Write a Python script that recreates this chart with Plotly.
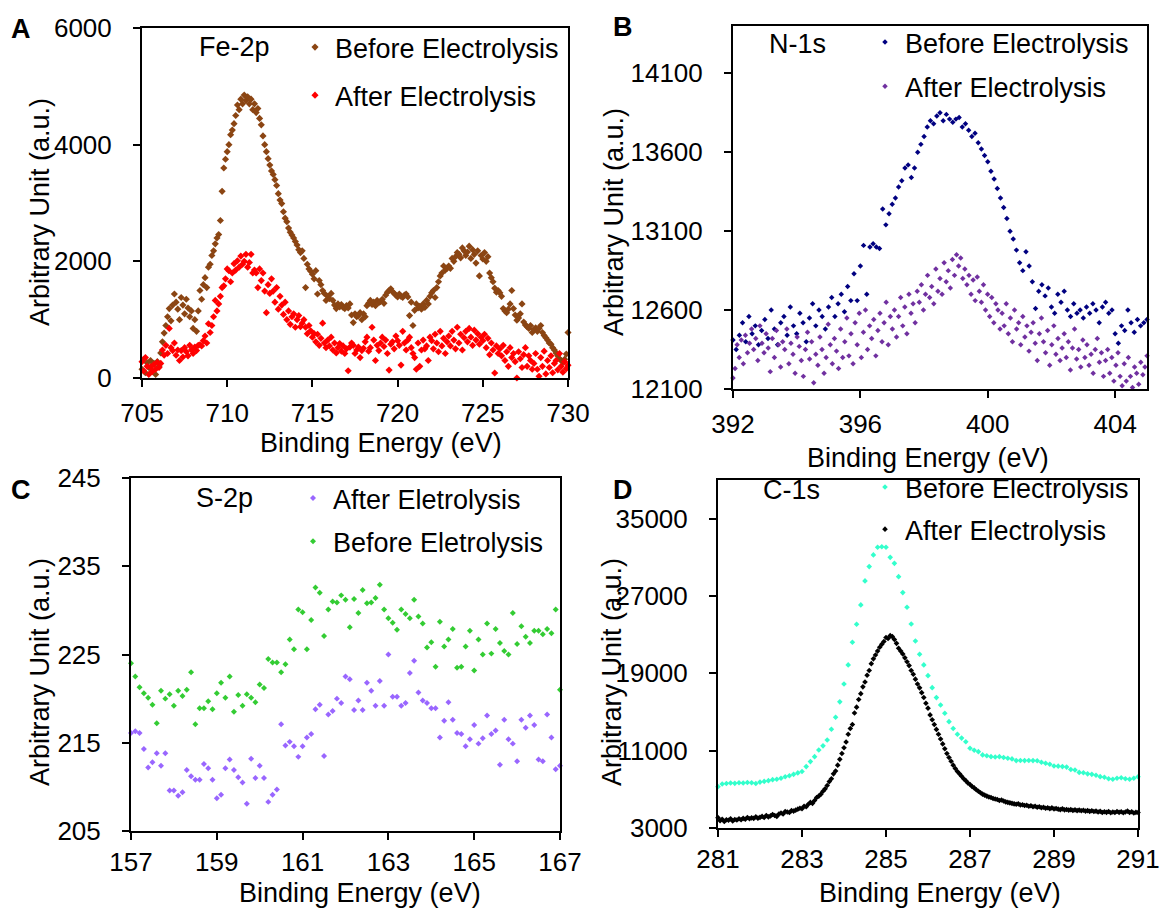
import plotly.graph_objects as go

FONT = "Liberation Sans, Arial, Helvetica, sans-serif"
W, H = 1163, 914

# ---------------- DATA ----------------
# Panel A: Fe-2p  (x grid 705.0 .. 730.0, step 0.1)
fe_start, fe_step = 705.0, 0.1
fe_before = [
    150, 320, 90, 260, 180, 300, 120, 250, 60, 280,
    200, 430, 620, 770, 900, 1050, 1190, 980, 1250, 1440,
    1300, 1180, 1000, 1380, 1250, 1100, 1350, 1200, 1050, 1150,
    850, 1000, 800, 1150, 1500, 1350, 1600, 1720, 1550, 1900,
    1950, 2100, 2180, 2300, 2400, 2460, 2700, 3200, 3600, 3750,
    3880, 4000, 4170, 4250, 4360, 4500, 4680, 4600, 4780, 4700,
    4850, 4760, 4820, 4700, 4780, 4600, 4700, 4550, 4620, 4450,
    4340, 4150, 4000, 3880, 3760, 3650, 3550, 3490, 3400, 3300,
    3160, 3050, 2990, 2850, 2740, 2680, 2570, 2500, 2450, 2400,
    2340, 2280, 2200, 2150, 2180, 2050, 1550, 1950, 1870, 1830,
    1780, 1700, 1840, 1440, 1670, 1600, 1500, 1450, 1330, 1400,
    1360, 1450, 1330, 1250, 1190, 1270, 1220, 1260, 1210, 1190,
    1240, 1200, 1270, 1080, 950, 1100, 1050, 1070, 1120, 1000,
    1100, 1050, 1240, 1280, 1330, 1260, 1300, 1240, 1330, 1290,
    1310, 1350, 1280, 1420, 1470, 1500, 1530, 1480, 1450, 1420,
    1390, 1440, 1400, 1380, 1420, 1440, 1390, 1070, 1300, 900,
    1160, 1270, 1200, 1230, 1180, 1270, 1210, 1330, 1270, 1400,
    1460, 1500, 1380, 1550, 1650, 1750, 1800, 1920, 1850, 1880,
    1920, 1880, 2050, 2000, 2080, 2150, 2120, 2060, 2230, 2180,
    2100, 2160, 2260, 2050, 2200, 2120, 1970, 2180, 1750, 2100,
    2040, 2150, 2000, 2080, 1800, 1720, 1650, 1540, 1470, 1500,
    1460, 1400, 1190, 1150, 1120, 1180, 1270, 1500, 1190, 1080,
    990, 1030, 1100, 1270, 960, 910, 880, 850, 900, 780,
    830, 860, 800, 850, 900, 780, 730, 690, 650, 600,
    580, 520, 480, 430, 380, 330, 300, 270, 320, 410,
    780,
]
fe_after = [
    280, 120, 350, 200, 60, 190, 110, 230, 150, 270,
    180, 250, 480, 390, 560, 420, 850, 520, 470, 600,
    390, 480, 300, 470, 360, 520, 450, 380, 560, 480,
    420, 530, 470, 560, 570, 550, 640, 720, 600, 930,
    780, 900, 1050, 1330, 1150, 1270, 1400, 1550, 1580, 1700,
    1870, 1840, 1650, 1800, 1960, 1850, 2010, 1900, 2090, 1950,
    2000, 2120, 1900, 1980, 2120, 1800, 1850, 1800, 1550, 1870,
    1670, 1800, 1490, 1120, 1600, 1450, 1700, 1490, 1300, 1550,
    1180, 1400, 1250, 1090, 1300, 1000, 1150, 920, 1050, 1100,
    870, 1000, 1070, 880, 940, 1000, 870, 760, 900, 810,
    700, 760, 620, 750, 560, 680, 940, 600, 520, 650,
    550, 700, 480, 600, 430, 520, 590, 460, 550, 420,
    500, 124, 530, 600, 560, 420, 480, 530, 350, 470,
    510, 620, 700, 460, 520, 870, 650, 300, 560, 470,
    600, 700, 540, 650, 420, 136, 580, 620, 500, 720,
    640, 560, 221, 800, 600, 480, 650, 700, 520, 420,
    350, 150, 600, 200, 480, 650, 500, 550, 300, 700,
    640, 500, 750, 600, 450, 800, 550, 680, 420, 620,
    720, 550, 800, 650, 500, 870, 600, 750, 480, 690,
    800, 620, 850, 700, 560, 820, 650, 760, 580, 700,
    640, 750, 520, 680, 400, 600, 480, 85, 550, 420,
    500, 380, 560, 300, 450, 200, 520, 350, 420, 280,
    0, 450, 330, 180, 400, 520, 200, 380, 300, 150,
    250, 420, 150, 30, 350, 200, 460, 70, 300, 180,
    380, 90, 250, 300, 140, 420, 200, 100, 280, 160,
    220,
]

# Panel B: N-1s
n_start = 392.0
n_before_step = 0.1      # 392.0 .. 405.0
n_after_step = 0.065     # 392.0 .. 405.0
n_before = [
    12410, 12350, 12440, 12520, 12400, 12560, 12450, 12500, 12380, 12470,
    12540, 12420, 12600, 12480, 12380, 12520, 12560, 12440, 12620, 12500,
    12450, 12580, 12520, 12400, 12550, 12640, 12500, 12600, 12560, 12480,
    12620, 12680, 12560, 12640, 12700, 12590, 12750, 12660, 12830, 12660,
    12880, 13010, 12700, 13000, 13020, 13000, 12990, 13240, 13140, 13210,
    13270, 13310, 13380, 13420, 13500, 13520, 13440, 13500, 13600, 13650,
    13700, 13760, 13800, 13780, 13830, 13850, 13800, 13840, 13810, 13790,
    13810, 13820, 13760, 13780, 13740, 13700, 13720, 13660, 13620, 13580,
    13540, 13480, 13430, 13370, 13310, 13250, 13180, 13100, 13050, 12980,
    12900, 12850, 12970, 12880, 12780, 12610, 12720, 12760, 12690, 12740,
    12620, 12580, 12700, 12650, 12720, 12600, 12560, 12640, 12580, 12600,
    12550, 12620, 12580, 12640, 12600, 12520, 12620, 12650, 12580, 12600,
    12450, 12390, 12500, 12470, 12600, 12520, 12460, 12540, 12500, 12520,
    12540,
]
n_after = [
    12170, 12230, 12380, 12300, 12410, 12260, 12440, 12330, 12390, 12480,
    12350, 12420, 12280, 12500, 12390, 12330, 12450, 12360, 12210, 12420,
    12300, 12470, 12380, 12240, 12400, 12350, 12480, 12260, 12390, 12320,
    12200, 12430, 12370, 12280, 12180, 12350, 12460, 12290, 12400, 12140,
    12320, 12250, 12430, 12350, 12200, 12300, 12510, 12380, 12260, 12420,
    12340, 12230, 12480, 12300, 12400, 12550, 12310, 12450, 12260, 12520,
    12380, 12580, 12300, 12460, 12600, 12350, 12500, 12420, 12540, 12310,
    12470, 12580, 12400, 12520, 12650, 12380, 12560, 12480, 12600, 12430,
    12560, 12680, 12500, 12620, 12450, 12700, 12580, 12640, 12520, 12720,
    12650, 12760, 12600, 12700, 12820, 12680, 12750, 12640, 12860, 12720,
    12800, 12700, 12900, 12780, 12850, 12740, 12920, 12820, 12950, 12880,
    12930, 12800, 12860, 12760, 12820, 12700, 12790, 12660, 12810, 12720,
    12650, 12760, 12600, 12700, 12560, 12680, 12520, 12640, 12600, 12480,
    12580, 12500, 12640, 12450, 12550, 12400, 12600, 12480, 12520, 12380,
    12560, 12430, 12500, 12340, 12460, 12520, 12390, 12280, 12450, 12550,
    12400, 12330, 12470, 12250, 12380, 12500, 12320, 12420, 12280, 12360,
    12450, 12300, 12400, 12220, 12360, 12480, 12290, 12350, 12240, 12410,
    12300, 12380, 12250, 12320, 12200, 12350, 12420, 12270, 12330, 12180,
    12280, 12350, 12200, 12300, 12150, 12250, 12330, 12180, 12120, 12260,
    12150, 12300, 12180, 12110, 12240, 12200, 12130, 12270, 12190, 12240,
    12310,
]

# Panel C: S-2p  (157.0 .. 167.0, step 0.1)
s_start, s_step = 157.0, 0.1
s_after = [
    216.1, 216.3, 216.1, 214.3, 212.2, 212.8, 213.8, 212.4, 213.8, 209.6,
    209.6, 209.0, 209.4, 211.9, 211.2, 210.8, 210.8, 212.6, 212.1, 210.8,
    208.7, 209.1, 212.1, 213.1, 211.9, 211.1, 210.5, 208.1, 213.2, 211.0,
    212.4, 211.0, 208.3, 209.1, 209.7, 217.1, 214.7, 215.1, 214.6, 213.4,
    214.6, 215.6, 216.0, 218.8, 219.3, 213.5, 218.2, 218.6, 220.0, 219.5,
    222.5, 222.2, 218.7, 219.8, 218.7, 221.8, 220.9, 219.2, 222.0, 219.2,
    225.0, 220.2, 220.2, 219.2, 219.5, 222.9, 224.3, 220.7, 219.8, 219.5,
    218.9, 218.9, 215.6, 217.5, 219.6, 217.6, 216.1, 216.0, 214.6, 215.4,
    217.0, 214.9, 215.5, 218.1, 216.0, 216.4, 212.5, 217.6, 215.4, 214.9,
    212.9, 217.6, 216.7, 218.1, 217.0, 213.1, 212.9, 218.2, 215.6, 212.0,
    212.4,
]
s_before = [
    224.0, 222.5, 221.3, 220.6, 220.1, 219.3, 217.2, 220.9, 220.0, 220.5,
    219.2, 220.9, 220.3, 221.0, 223.0, 217.1, 218.9, 218.9, 219.7, 218.8,
    220.6, 221.8, 220.1, 222.5, 218.5, 220.4, 219.2, 220.5, 220.1, 219.6,
    221.6, 221.2, 224.5, 224.1, 224.1, 223.0, 223.9, 226.7, 225.6, 230.1,
    229.8, 225.6, 228.9, 232.6, 232.0, 227.1, 230.1, 231.0, 230.9, 231.7,
    231.2, 228.1, 231.3, 229.7, 232.3, 230.8, 230.9, 231.4, 232.9, 230.1,
    229.1, 228.6, 227.8, 230.1, 229.6, 229.1, 231.2, 229.3, 228.5, 225.8,
    226.4, 223.6, 228.7, 225.9, 226.7, 227.9, 223.5, 223.6, 225.9, 227.7,
    223.2, 226.7, 225.0, 228.5, 225.1, 227.9, 226.3, 225.4, 225.0, 229.7,
    226.2, 228.2, 227.0, 226.3, 227.7, 227.7, 227.3, 227.9, 227.4, 230.1,
    221.0,
]

# Panel D: C-1s
c_start = 281.0
c_before_step = 0.1     # 281.0 .. 291.0
c_after_step = 0.05     # 281.0 .. 291.0
c_before = [
    7280, 7550, 7600, 7650, 7620, 7680, 7650, 7700, 7680, 7600,
    7750, 7820, 7900, 8000, 8050, 8150, 8300, 8400, 8550, 8700,
    8850, 9350, 9870, 10380, 11070, 11500, 12110, 13210, 14450, 16050,
    17900, 19870, 22220, 24080, 26080, 28560, 30040, 31250, 32050, 32100,
    32050, 31000, 30380, 29000, 27350, 25840, 24110, 22350, 20980, 19870,
    18760, 17520, 16490, 15730, 14870, 14000, 13300, 12700, 12300, 11930,
    11250, 11050, 10900, 10560, 10480, 10380, 10350, 10380, 10300, 10210,
    10150, 9970, 9980, 9970, 9990, 9970, 9960, 9800, 9700, 9600,
    9420, 9400, 9350, 9300, 9050, 9000, 8750, 8720, 8600, 8550,
    8450, 8310, 8250, 8100, 8040, 8150, 8200, 8100, 8040, 8150,
    8300,
]
c_after = [
    4070, 3750, 3900, 3680, 3850, 3800, 3950, 3720, 3880, 3820,
    3950, 3850, 4000, 3900, 4080, 3950, 4050, 4000, 4150, 4020,
    4100, 4200, 4080, 4300, 4150, 4250, 4400, 4300, 4200, 4450,
    4550, 4450, 4700, 4650, 4600, 4800, 4750, 4850, 4950, 5050,
    5000, 5250, 5200, 5450, 5650, 5550, 5850, 6150, 6300, 6500,
    6800, 7050, 7400, 7800, 8100, 8600, 8900, 9500, 10100, 10700,
    11300, 11900, 12700, 13300, 13700, 14900, 15500, 16300, 16900, 17600,
    18100, 18800, 19300, 20000, 20500, 20900, 21300, 21700, 22000, 22300,
    22700, 22600, 22900, 22800, 22500, 22100, 21600, 21300, 21000, 20600,
    20200, 19800, 19300, 18900, 18400, 17900, 17500, 17000, 16500, 15900,
    15400, 14700, 14200, 13700, 13200, 12700, 12200, 11700, 11200, 10700,
    10300, 9900, 9500, 9150, 8850, 8600, 8350, 8100, 7900, 7650,
    7500, 7300, 7150, 6950, 6800, 6650, 6500, 6400, 6300, 6200,
    6150, 6050, 6000, 5950, 5850, 5900, 5800, 5700, 5650, 5600,
    5550, 5500, 5450, 5500, 5380, 5400, 5320, 5350, 5250, 5300,
    5200, 5250, 5150, 5200, 5100, 5150, 5050, 5100, 5000, 5080,
    4980, 5020, 4950, 4900, 4980, 4880, 4920, 4850, 4900, 4820,
    4870, 4800, 4850, 4780, 4830, 4750, 4800, 4720, 4780, 4700,
    4750, 4650, 4720, 4600, 4680, 4620, 4700, 4580, 4650, 4600,
    4700, 4620, 4680, 4580, 4650, 4750, 4600, 4680, 4550, 4620,
    4600,
]

# axis ranges and ticks
fe_xrange, fe_xdtick, fe_yrange, fe_ydtick = [705, 730], 5, [0, 6000], 2000
n_xrange, n_xdtick, n_yrange, n_ydtick = [392, 405], 4, [12100, 14400], 500
s_xrange, s_xdtick, s_yrange, s_ydtick = [157, 167], 2, [205, 245], 10
c_xrange, c_xdtick, c_yrange, c_ydtick = [281, 291], 2, [3000, 39000], 8000


def grid(start, step, n):
    return [round(start + step * i, 4) for i in range(n)]


def fx(px):
    return px / W


def fy(py):
    return 1 - py / H


fig = go.Figure()


def add(xs, ys, name, color, size, xa, ya, leg, grp):
    fig.add_trace(go.Scatter(
        x=xs, y=ys, mode="markers", name=name,
        marker=dict(symbol="diamond", size=size, color=color, line=dict(width=0)),
        xaxis=xa, yaxis=ya, legend=leg, legendgroup=grp, cliponaxis=False,
        hoverinfo="x+y",
    ))


add(grid(fe_start, fe_step, len(fe_before)), fe_before, "Before Electrolysis", "#8B4513", 5.5, "x", "y", "legend", "a1")
add(grid(fe_start, fe_step, len(fe_after)), fe_after, "After Electrolysis", "#FF0000", 5.5, "x", "y", "legend", "a2")
add(grid(n_start, n_before_step, len(n_before)), n_before, "Before Electrolysis", "#000080", 4.2, "x2", "y2", "legend2", "b1")
add(grid(n_start, n_after_step, len(n_after)), n_after, "After Electrolysis", "#7030A0", 4.2, "x2", "y2", "legend2", "b2")
add(grid(s_start, s_step, len(s_after)), s_after, "After Eletrolysis", "#9966FF", 4.6, "x3", "y3", "legend3", "c1")
add(grid(s_start, s_step, len(s_before)), s_before, "Before Eletrolysis", "#33CC33", 4.6, "x3", "y3", "legend3", "c2")
add(grid(c_start, c_before_step, len(c_before)), c_before, "Before Electrolysis", "#33FFCC", 4.3, "x4", "y4", "legend4", "d1")
add(grid(c_start, c_after_step, len(c_after)), c_after, "After Electrolysis", "#000000", 4.3, "x4", "y4", "legend4", "d2")

tickfont = dict(family=FONT, size=26, color="black")


def axis(domain, anchor, rng, dtick, standoff):
    return dict(
        domain=domain, anchor=anchor, range=rng, tick0=rng[0], dtick=dtick,
        showline=True, linecolor="black", linewidth=2, mirror=True,
        ticks="outside", ticklen=7, tickwidth=2, tickcolor="black",
        showgrid=False, zeroline=False, tickfont=tickfont, tickformat="d",
        ticklabelstandoff=standoff, fixedrange=True, automargin=False,
    )


# plot-area pixel boxes: (left, right, top, bottom)
boxA = (142, 568, 28, 378)
boxB = (733, 1147, 26, 389)
boxC = (131, 560, 478, 831)
boxD = (718, 1138, 480, 828)


def dom(box):
    l, r, t, b = box
    return [fx(l), fx(r)], [fy(b), fy(t)]


dxA, dyA = dom(boxA)
dxB, dyB = dom(boxB)
dxC, dyC = dom(boxC)
dxD, dyD = dom(boxD)

legfont = dict(family=FONT, size=27, color="black")


def legend(px_left, py_top, gap):
    return dict(x=fx(px_left), y=fy(py_top), xanchor="left", yanchor="top",
                font=legfont, bgcolor="rgba(0,0,0,0)", borderwidth=0,
                tracegroupgap=gap, itemclick=False, itemdoubleclick=False)


annots = []


def text(s, px, py, size=27, bold=False, angle=0, xanchor="center"):
    annots.append(dict(
        text=("<b>%s</b>" % s) if bold else s, x=fx(px), y=fy(py),
        xref="paper", yref="paper", showarrow=False, textangle=angle,
        xanchor=xanchor, yanchor="middle",
        font=dict(family=FONT, size=size, color="black"),
    ))


# panel letters
text("A", 21, 29, 27, True)
text("B", 623, 27, 27, True)
text("C", 21, 490, 27, True)
text("D", 623, 490, 27, True)
# spectrum labels
text("Fe-2p", 234, 47)
text("N-1s", 797, 44)
text("S-2p", 224, 498)
text("C-1s", 791, 490)
# axis titles
for (cx, cy) in [(381, 443), (928, 458), (360, 893), (940, 893)]:
    text("Binding Energy (eV)", cx, cy)
for (cx, cy) in [(40, 212), (614, 222), (40, 672), (612, 672)]:
    text("Arbitrary Unit (a.u.)", cx, cy, angle=-90)

fig.update_layout(
    template="none",
    width=W, height=H, margin=dict(l=0, r=0, t=0, b=0, autoexpand=False),
    paper_bgcolor="white", plot_bgcolor="white",
    font=dict(family=FONT, color="black"),
    showlegend=True, hovermode="closest",
    xaxis=axis(dxA, "y", fe_xrange, fe_xdtick, 4),
    yaxis=axis(dyA, "x", fe_yrange, fe_ydtick, 16),
    xaxis2=axis(dxB, "y2", n_xrange, n_xdtick, 4),
    yaxis2=axis(dyB, "x2", n_yrange, n_ydtick, 16),
    xaxis3=axis(dxC, "y3", s_xrange, s_xdtick, 0),
    yaxis3=axis(dyC, "x3", s_yrange, s_ydtick, 16),
    xaxis4=axis(dxD, "y4", c_xrange, c_xdtick, 0),
    yaxis4=axis(dyD, "x4", c_yrange, c_ydtick, 16),
    legend=legend(295, 23, 10),
    legend2=legend(865, 18, 6),
    legend3=legend(293, 474, 5),
    legend4=legend(865, 463, 4),
    annotations=annots,
)

fig.write_html("out.html")
